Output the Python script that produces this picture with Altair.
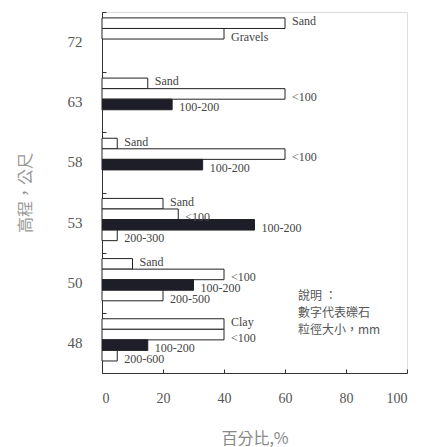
import altair as alt
import pandas as pd

groups = ["72", "63", "58", "53", "50", "48"]
elev = ["72", "72", "63", "63", "63", "58", "58", "58",
        "53", "53", "53", "53", "50", "50", "50", "50",
        "48", "48", "48", "48"]
slot = [1, 2, 1, 2, 3, 1, 2, 3, 1, 2, 3, 4, 1, 2, 3, 4, 1, 2, 3, 4]
label = ["Sand", "Gravels", "Sand", "<100", "100-200", "Sand", "<100", "100-200",
         "Sand", "<100", "100-200", "200-300", "Sand", "<100", "100-200", "200-500",
         "Clay", "<100", "100-200", "200-600"]
pct = [60, 40, 15, 60, 23, 5, 60, 33, 20, 25, 50, 5, 10, 40, 30, 20, 40, 40, 15, 5]
kind = ["o", "o", "o", "o", "f", "o", "o", "f", "o", "o", "f", "o",
        "o", "o", "f", "o", "o", "o", "f", "o"]
xticks = [0, 20, 40, 60, 80, 100]
note = ["說明 ：", "數字代表礫石", "粒徑大小，mm"]

df = pd.DataFrame({"elev": elev, "slot": slot, "label": label, "pct": pct, "kind": kind})

W, H = 305, 361
serif = "Liberation Serif"
cjk = "Noto Sans CJK TC"

yscale = alt.Scale(domain=groups, paddingInner=0, paddingOuter=0)
yoff = alt.YOffset("slot:O", scale=alt.Scale(domain=[1, 2, 3, 4], paddingInner=0,
                                             paddingOuter=0.85, align=0.33))
xscale = alt.Scale(domain=[0, 100])

base = alt.Chart(df)

bars = base.mark_bar(stroke="#222222", strokeWidth=1).encode(
    x=alt.X("pct:Q", scale=xscale,
            axis=alt.Axis(values=xticks, tickSize=0, labelPadding=18, labelFont=serif,
                          labelFontSize=14, labelColor="#555555", domainColor="#333333",
                          grid=False, title="百分比,%", titleFont=cjk, titleFontSize=16,
                          titleFontWeight="normal", titleColor="#888888", titlePadding=25)),
    y=alt.Y("elev:N", sort=groups, scale=yscale,
            axis=alt.Axis(tickSize=0, labelPadding=20, labelFont=serif, labelFontSize=15,
                          labelColor="#555555", domainColor="#333333", labelAngle=0,
                          title="高程，公尺", titleFont=cjk, titleFontSize=16,
                          titleFontWeight="normal", titleColor="#999999", titlePadding=34)),
    yOffset=yoff,
    fill=alt.Fill("kind:N", scale=alt.Scale(domain=["o", "f"], range=["white", "#1e1e28"]),
                  legend=None),
)

text_y = alt.Y("elev:N", sort=groups, scale=yscale,
               axis=alt.Axis(orient="right", offset=-W, labels=False, domain=False,
                             tickBand="extent", tickSize=4, tickColor="#333333", title=None))
text_x = alt.X("pct:Q", scale=xscale,
               axis=alt.Axis(orient="top", offset=-H, values=xticks, labels=False, domain=False,
                             tickSize=4, tickColor="#333333", grid=False, title=None))

labels_top = base.transform_filter("datum.slot == 1").mark_text(
    align="left", baseline="middle", dx=7, dy=-2, font=serif, fontSize=12, color="#444444"
).encode(x=text_x, y=text_y, yOffset=yoff, text="label:N")

labels_rest = base.transform_filter("datum.slot > 1").mark_text(
    align="left", baseline="middle", dx=7, dy=3, font=serif, fontSize=12, color="#444444"
).encode(x=alt.X("pct:Q", scale=xscale, axis=None),
         y=alt.Y("elev:N", sort=groups, scale=yscale, axis=None),
         yOffset=yoff, text="label:N")

note_marks = [
    alt.Chart(pd.DataFrame({"t": [0]})).mark_text(
        align="left", baseline="middle", font=cjk, fontSize=12, color="#555555"
    ).encode(x=alt.value(196), y=alt.value(yy), text=alt.value(line))
    for line, yy in zip(note, [284, 301, 318])
]

chart = alt.layer(bars, labels_top, labels_rest, *note_marks).resolve_axis(
    x="independent", y="independent"
).properties(
    width=W, height=H,
    autosize=alt.AutoSizeParams(type="none"),
    padding={"left": 102, "top": 12, "right": 26, "bottom": 74},
).configure_view(stroke=None).configure(background="white")

chart.save("out.html", embed_options={"renderer": "svg", "actions": False})
